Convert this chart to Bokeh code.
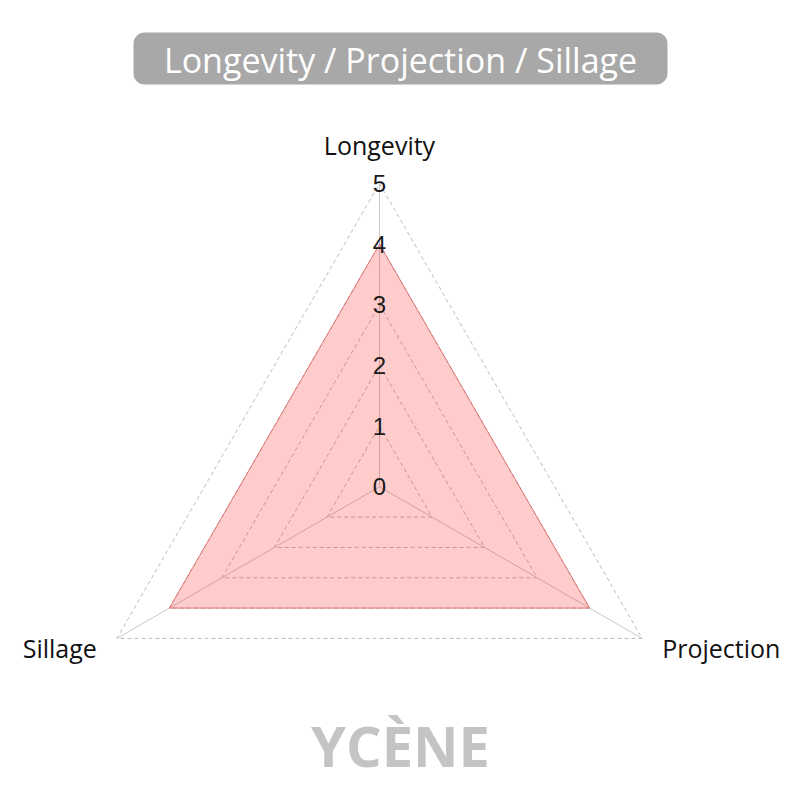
import numpy as np
from bokeh.plotting import figure
from bokeh.core.properties import value
from bokeh.embed import file_html
from bokeh.resources import INLINE

categories = ["Longevity", "Projection", "Sillage"]
values = [4, 4, 4]
tick_values = [0, 1, 2, 3, 4, 5]
tick_labels = ["0", "1", "2", "3", "4", "5"]
title_text = "Longevity / Projection / Sillage"
brand_text = "YCÈNE"

W = H = 784
scale = 303.3 / 5.0
cx, cy = 379.0, 486.3
p = figure(width=W, height=H, output_backend="svg", toolbar_location=None,
           x_range=(-cx / scale, (W - cx) / scale),
           y_range=(-(H - cy) / scale, cy / scale),
           min_border=0)
p.axis.visible = False
p.grid.visible = False
p.outline_line_color = None

def sx(px_):
    return (px_ - cx) / scale

def sy(py_):
    return (cy - py_) / scale

# title box (rounded rectangle)
bx0, bx1, by0, by1, rr = 133, 667, 32, 84, 11
th = np.linspace(0, np.pi / 2, 8)
corners = [(bx1 - rr, by0 + rr, 0), (bx0 + rr, by0 + rr, 1), (bx0 + rr, by1 - rr, 2), (bx1 - rr, by1 - rr, 3)]
bxs, bys = [], []
for ccx, ccy, k in corners:
    a = th + k * np.pi / 2
    bxs += list(sx(ccx + rr * np.cos(a)))
    bys += list(sy(ccy - rr * np.sin(a)))
p.patch(bxs, bys, fill_color="#a8a8a8", line_color=None)
p.text(x=[sx(400)], y=[sy(59)], text=[title_text], text_align="center", text_baseline="middle",
       text_font=value("Open Sans"), text_font_size="34px", text_color="white")

# angles: Longevity at top, Projection bottom-right, Sillage bottom-left (clockwise)
angles = [np.pi / 2 - i * 2 * np.pi / len(categories) for i in range(len(categories))]
rmax = max(tick_values)

# rings
for t in tick_values[1:]:
    xs = [t * np.cos(a) for a in angles] + [t * np.cos(angles[0])]
    ys = [t * np.sin(a) for a in angles] + [t * np.sin(angles[0])]
    p.line(xs, ys, line_color="#bdbdbd", line_width=1, line_dash="4 3")

# spokes
for a in angles:
    p.line([0, rmax * np.cos(a)], [0, rmax * np.sin(a)], line_color="#c8c8c8", line_width=1)

# data polygon
px = [v * np.cos(a) for v, a in zip(values, angles)]
py = [v * np.sin(a) for v, a in zip(values, angles)]
p.patch(px, py, fill_color="#ff0000", fill_alpha=0.2, line_color="#e06060", line_alpha=0.8, line_width=1)

# tick labels
p.text(x=[0] * len(tick_values), y=tick_values, text=tick_labels,
       text_align="center", text_baseline="middle", text_font=value("Liberation Sans"),
       text_font_size="24px", text_color="#1a1a1a")

# category labels
for c, a in zip(categories, angles):
    ca = np.cos(a)
    if abs(ca) < 1e-6:
        p.text(x=[0], y=[sy(144)], text=[c], text_align="center", text_baseline="middle",
               text_font=value("Open Sans"), text_font_size="25px", text_color="#111111")
    else:
        x = 4.66 * np.sign(ca)
        p.text(x=[x], y=[sy(647)], text=[c], text_align="left" if ca > 0 else "right",
               text_baseline="middle", text_font=value("Open Sans"), text_font_size="25px",
               text_color="#111111")

p.text(x=[sx(400)], y=[sy(744)], text=[brand_text], text_align="center", text_baseline="middle",
       text_font=value("Open Sans"),
       text_font_style="bold", text_font_size="56px", text_color="#c4c4c4")

open("out.html", "w").write(file_html(p, INLINE))
